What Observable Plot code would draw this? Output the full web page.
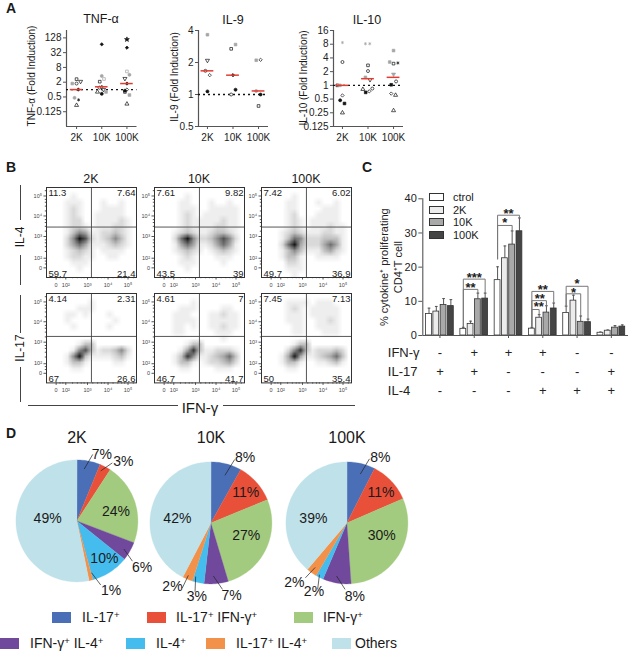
<!DOCTYPE html>
<html><head><meta charset="utf-8">
<script src="https://cdn.jsdelivr.net/npm/d3@7"></script>
<script src="https://cdn.jsdelivr.net/npm/@observablehq/plot@0.6"></script>
<style>
html,body{margin:0;padding:0;background:#fff}
#page{position:relative;width:628px;height:653px;overflow:hidden;font-family:"Liberation Sans",Arial,sans-serif;color:#1a1a1a}
#page svg{position:absolute;overflow:visible;background:transparent}
.lab{position:absolute;white-space:nowrap;line-height:1}
.lab sup{font-size:.68em;line-height:0;vertical-align:.42em}
.box{position:absolute}
</style></head><body><div id="page"></div>
<script>
const FONT = '"Liberation Sans",Arial,sans-serif';
const doseLabels = ["2K","10K","100K"];

// ---- Panel A: fold induction (x = dose index + small horizontal spread as drawn)
const tnfX   = [0,-.17,0,.16,.07,-.08,.08,0, 1,1,1.09,.92,1,.91,.83,1.17,1.07,1, 2,2,2,2.1,1.92,2,2,1.92,1.92,2.1,2];
const tnfY   = [2.66,1.76,1.76,2.13,1,.46,.38,.23, 70,3.6,2.7,2.1,1.3,1.2,.8,.8,1,.67, 111,51,5.5,4,2.8,1.76,1,.9,.8,.6,.26];
const tnfKey = ["sq","gs","ci","it","fd","gc","as","tr", "fd","gc","gos","sq","di","ci","tr","gs","it","fc", "st","fd","gos","gc","it","fd","di","fc","sq","gs","tr"];
const tnfMean = [1,1.3,1.76];

const il9X   = [0,0,-.08,.09,0, .93,1.1,1,1.1,.93, 1.91,2.08,1.91,2.08,2];
const il9Y   = [3.65,2.09,1.67,1.52,1.07, 2.69,2.95,1.52,1.11,1, 2.1,2.12,1.08,1,.78];
const il9Key = ["gs","it","ci","di","fc", "sq","gs","fd","fc","ci", "gs","di","gc","fc","sq"];
const il9Mean = [1.67,1.52,1.08];

const il10X   = [0,0,-.2,-.1,0,-.09,.08,0, .9,1.07,1,1,.9,1.08,.8,.91,1.05,1.17, 2,1.85,2,2.17,2,2.1,1.91,1.91,2.08,2];
const il10Y   = [8.7,3.25,1,1,.6,.47,.4,.25, 8.2,8.2,2.75,2.06,1.5,1.33,.82,.7,.74,.85, 5.8,3.25,3,3.1,1.75,1.22,1.03,.66,.61,.28];
const il10Key = ["gas","ci","sq","gs","di","fc","fs","tr", "gas","gas","sq","ci","gs","it","tr","fs","di","ci", "gs","gs","sq","as","git","ci","fs","di","tr","tr"];
const il10Mean = [1,1.4,1.5];

// ---- Panel B: quadrant percentages and density (0 empty .. 9 darkest)
const flowTickPos = [0,1,3.25,5.38,7.45];
const flowTickText = ["0","10²","10³","10⁴","10⁵"];
const flowMinorPos = [.4,.7,1.7,2.2,2.6,2.9,3.8,4.3,4.7,5,5.9,6.4,6.8,7.1,8];
const quad_IL4 = [["11.3","7.64","59.7","21.4"],["7.61","9.82","43.5","39"],["7.42","6.02","49.7","36.9"]];
const quad_IL17 = [["4.14","2.31","67","26.6"],["4.61","7","46.7","41.7"],["7.45","7.13","50","35.4"]];
const split_IL4 = 4.23, split_IL17 = 3.85, split_IFN = 3.66;
const dens_IL4_2K = ["000000000000000","000010000000000","000111000100100","000121000111100","000121001111100","000122001111210","000122101112210","000135411223210","000259721235310","000246411123210","000123210111100","000122110011000","000011100000000","000001000000000","000000000000000"];
const dens_IL4_10K = ["000000000000000","000001000000000","000011000100100","000011100111110","000012101111110","000012111112110","000012111122110","000123211233210","000269522357520","000146411246410","000123210123210","000012100011100","000011100001000","000001000000000","000000000000000"];
const dens_IL4_100K = ["000000000000000","000001000000000","000011000100100","000011000011100","000012000111100","000012101111100","000012101112110","000123211122110","000136522233310","000269422246410","000135311134210","000133100111100","000022100000000","000011100000000","000001000000000"];
const dens_IL17_2K = ["000000000000000","000000010000000","000001110000000","000110100010000","000100000001000","000010000010000","000000000000000","000000000000000","000001330000000","000015731223520","000159311112310","000133100001100","000011000000000","000000000000000","000000000000000"];
const dens_IL17_10K = ["000000000000000","000000100000000","000011100001100","000111000112110","000111100111110","000110100112110","000110000011100","000000000001000","000001330000000","000014831122210","000138511234630","000133101223420","000011000011100","000000000000000","000000000000000"];
const dens_IL17_100K = ["000000000000000","000011110111000","000012101111100","000011101111100","000011100112100","000001100111100","000001100011100","000000000000000","000001330000000","000025831222320","000149411234630","000133100112310","000011000000000","000000000000000","000000000000000"];

// ---- Panel C: bars, error tops, significance brackets, +/- table
const cSeries = ["ctrol","2K","10K","100K"];
const cFill = ["#ffffff","#ececec","#a9a9a9","#454545"];
const cCtrol = [6.3,1.95,16.2,2,6.6,.8];
const c2K    = [7,3.4,22.6,5.2,10.2,1.4];
const c10K   = [8.9,10.6,26.6,6.7,4,2.3];
const c100K  = [8.6,10.8,30.5,7.9,3.9,2.6];
const eCtrol = [8,2.4,20.1,2.4,8.6,1];
const e2K    = [8.5,4.2,26.2,6.1,11.8,1.6];
const e10K   = [10.8,12.4,30.6,8.7,5.7,2.9];
const e100K  = [10.5,12.4,34.4,9.5,4.8,3.1];
const bracketGroup = [1,1,2,2,3,3,3,4,4];
const bracketTo    = [3,2,3,2,3,2,1,3,2];
const bracketTop   = [16.5,13.5,35.2,32.2,12.9,10.2,7.6,14.4,12.2];
const bracketFrom  = [2.6,2.6,22.4,22.4,2.7,2.7,2.7,8.8,8.8];
const bracketEnd   = [12.4,12.4,34.4,30.6,9.7,8.7,6.3,4.9,5.8];
const bracketStars = ["***","**","**","*","**","**","**","*","*"];
const bracketStarY = [17.8,14.9,36.6,33.9,14.3,11.6,9.2,16.1,13.4];
const bracketStarAt= [1.5,1,1.5,1,1.5,1.1,.95,1.5,1];
const tableRows = ["IFN-γ","IL-17","IL-4"];
const tableIFN  = ["-","+","+","+","-","-"];
const tableIL17 = ["+","+","-","-","-","+"];
const tableIL4  = ["-","-","-","+","+","+"];

// ---- Panel D: slices as drawn, printed labels
const pieNames  = ["IL-17+","IL-17+ IFN-γ+","IFN-γ+","IFN-γ+ IL-4+","IL-4+","IL-17+ IL-4+","Others"];
const pieColors = ["#4a6fb6","#e8503a","#a3cb7f","#71499c","#45bcee","#f2924a","#bfe1e9"];
const share2K   = [6.2,3,21.6,5,10,1,53.2];
const share10K  = [8.1,10.7,26.6,6.4,3.1,2.7,42.4];
const share100K = [7.5,11,30.4,7.5,2,2.8,38.8];
const text2K   = ["7%","3%","24%","6%","10%","1%","49%"];
const text10K  = ["8%","11%","27%","7%","3%","2%","42%"];
const text100K = ["8%","11%","30%","8%","2%","2%","39%"];
// label anchor and leader line, in pie radii
const place2K = [[.41,1.09,.12,.85,.26,1.09],[.76,.97,.39,.82,.58,.95],[.64,.16],[1.07,-.77,.77,-.46,.91,-.66],[.45,-.62],[.56,-1.14,.24,-.85,.39,-1.05],[-.48,.04]];
const place10K = [[.56,1.08,.23,.78,.39,1.04],[.57,.49],[.58,-.21],[.34,-1.19,.04,-.87,.19,-1.09],[-.23,-1.2,-.25,-.88,-.26,-1.13],[-.63,-1.05,-.37,-.86,-.47,-1.07],[-.55,.07]];
const place100K = [[.55,1.08,.22,.8,.37,1.05],[.56,.49],[.57,-.21],[.13,-1.2,-.17,-.87,-.03,-1.09],[-.54,-1.13,-.45,-.85,-.48,-1.09],[-.86,-.97,-.52,-.73,-.68,-.9],[-.55,.07]];

// ---------------- layout helpers
const page = document.getElementById("page");
function put(svg,left,top){svg.style.left=left+"px";svg.style.top=top+"px";page.appendChild(svg);}
function lab(html,x,y,o={}){
  const d=document.createElement("div");d.className="lab";d.innerHTML=html;
  d.style.left=x+"px";d.style.top=y+"px";d.style.fontSize=(o.size||12)+"px";
  if(o.weight)d.style.fontWeight=o.weight;
  const tx=o.anchor==="start"?"0":"-50%";
  d.style.transform=`translate(${tx},-50%)`+(o.rot?` rotate(${o.rot}deg)`:"");
  page.appendChild(d);
}
function box(x,y,w,h,bg,border){
  const d=document.createElement("div");d.className="box";
  Object.assign(d.style,{left:x+"px",top:y+"px",width:w+"px",height:h+"px",background:bg,boxSizing:"border-box"});
  if(border)d.style.border=border;page.appendChild(d);
}
const blank=()=>"";

// ---------------- A
const black="#111",gray="#a5a5a5";
const markers={
  sq:{symbol:"square",fill:"#fff",stroke:black}, ci:{symbol:"circle",fill:"#fff",stroke:black},
  tr:{symbol:"triangle",fill:"#fff",stroke:black}, di:{symbol:"diamond2",fill:"#fff",stroke:black},
  it:{symbol:"triangle",fill:"#fff",stroke:black,rotate:180},
  gs:{symbol:"square",fill:gray,stroke:gray}, gc:{symbol:"circle",fill:gray,stroke:gray},
  gos:{symbol:"square",fill:"#fff",stroke:gray}, gas:{symbol:"asterisk",fill:"none",stroke:gray},
  git:{symbol:"triangle",fill:gray,stroke:gray,rotate:180},
  as:{symbol:"asterisk",fill:"none",stroke:black}, st:{symbol:"star",fill:black,stroke:black},
  fc:{symbol:"circle",fill:black,stroke:black}, fs:{symbol:"square",fill:black,stroke:black},
  fd:{symbol:"diamond2",fill:black,stroke:black}
};
const axisGray="#555";
function panelA({xs,ys,keys,means,left,width,marginLeft,marginRight,xDomain,yDomain,yTicks}){
  const rows=xs.map((x,i)=>({x,y:ys[i],k:keys[i]}));
  const dots=Object.entries(markers).map(([k,m])=>Plot.dot(rows.filter(d=>d.k===k),{x:"x",y:"y",r:1.5,strokeWidth:.7,...m}));
  return put(Plot.plot({
    width,height:150,marginLeft,marginRight,marginTop:30,marginBottom:24,
    style:{fontFamily:FONT,fontSize:"10px",color:"#222",background:"transparent"},
    x:{domain:xDomain},
    y:{type:"log",base:2,domain:yDomain},
    marks:[
      Plot.ruleX([xDomain[0]],{stroke:axisGray,strokeWidth:1.2}),
      Plot.ruleY([yDomain[0]],{stroke:axisGray,strokeWidth:1.2}),
      Plot.axisX({ticks:[0,1,2],tickFormat:i=>doseLabels[i],label:null,tickSize:3,stroke:axisGray,tickPadding:4}),
      Plot.axisY({ticks:yTicks,tickFormat:d=>String(d),label:null,tickSize:3,stroke:axisGray,tickPadding:2}),
      Plot.ruleY([1],{stroke:black,strokeWidth:1.3,strokeDasharray:"2,3"}),
      ...dots,
      Plot.ruleY(means,{x1:(d,i)=>i-.25,x2:(d,i)=>i+.25,y:d=>d,stroke:"#e23b30",strokeWidth:1.5})
    ]
  }),left,0);
}
panelA({xs:tnfX,ys:tnfY,keys:tnfKey,means:tnfMean,left:0,width:150,marginLeft:66,marginRight:13.5,xDomain:[-.4,2.4],yDomain:[1/32,256],yTicks:[128,32,8,2,.5,.125]});
panelA({xs:il9X,ys:il9Y,keys:il9Key,means:il9Mean,left:150,width:130,marginLeft:48,marginRight:12,xDomain:[-.35,2.39],yDomain:[.5,4],yTicks:[4,2,1,.5]});
panelA({xs:il10X,ys:il10Y,keys:il10Key,means:il10Mean,left:280,width:135,marginLeft:53,marginRight:12,xDomain:[-.35,2.39],yDomain:[.125,16],yTicks:[16,8,4,2,1,.5,.25,.125]});
lab("A",11,8,{size:14,weight:"bold"});
lab("TNF-α",101,19,{size:12.5});lab("IL-9",233,20,{size:12.5});lab("IL-10",367,20,{size:12.5});
lab("TNF-α (Fold Induction)",32,75.5,{size:10,rot:-90});
lab("IL-9 (Fold Induction)",175,77,{size:10,rot:-90});
lab("IL-10 (Fold Induction)",304,78,{size:10,rot:-90});

// ---------------- B
function flow({dens,quad,split,left,top,width,height}){
  const F=[-1,8.33];
  const values=dens.join("").split("").map(Number);
  const axStyle={stroke:"#555",fill:"#444"};
  return put(Plot.plot({
    width:width+18,height:height+16,marginLeft:16,marginRight:2,marginTop:3,marginBottom:13,
    style:{fontFamily:FONT,fontSize:"5.5px",background:"transparent"},
    x:{domain:F},y:{domain:F},
    color:{type:"pow",exponent:1.2,domain:[0,9],range:["#ffffff","#161616"]},
    marks:[
      Plot.raster(values,{width:15,height:15,x1:F[0],x2:F[1],y1:F[1],y2:F[0],fill:d=>d}),
      Plot.axisX({ticks:flowMinorPos,tickFormat:blank,tickSize:1.2,label:null,...axStyle}),
      Plot.axisY({ticks:flowMinorPos,tickFormat:blank,tickSize:1.2,label:null,...axStyle}),
      Plot.axisX({ticks:flowTickPos,tickFormat:(d,i)=>flowTickText[i],tickSize:2.5,tickPadding:3,label:null,...axStyle}),
      Plot.axisY({ticks:flowTickPos,tickFormat:(d,i)=>flowTickText[i],tickSize:2.5,tickPadding:2,label:null,...axStyle}),
      Plot.ruleX([split_IFN],{stroke:"#444",strokeWidth:.9}),
      Plot.ruleY([split],{stroke:"#444",strokeWidth:.9}),
      Plot.frame({stroke:"#333",strokeWidth:1}),
      Plot.text([quad[0]],{frameAnchor:"top-left",dx:2,dy:2,fontSize:9.5,fill:"#222"}),
      Plot.text([quad[1]],{frameAnchor:"top-right",dx:-1,dy:2,fontSize:9.5,fill:"#222"}),
      Plot.text([quad[2]],{frameAnchor:"bottom-left",dx:2,dy:-1,fontSize:9.5,fill:"#222"}),
      Plot.text([quad[3]],{frameAnchor:"bottom-right",dx:-1,dy:-1,fontSize:9.5,fill:"#222"})
    ]
  }),left-16,top-3);
}
const flowLeft=[45.7,154,261.3];
const densTop=[dens_IL4_2K,dens_IL4_10K,dens_IL4_100K], densBot=[dens_IL17_2K,dens_IL17_10K,dens_IL17_100K];
flowLeft.forEach((l,i)=>{
  flow({dens:densTop[i],quad:quad_IL4[i],split:split_IL4,left:l,top:187.3,width:90,height:90});
  flow({dens:densBot[i],quad:quad_IL17[i],split:split_IL17,left:l,top:293.3,width:90,height:89.4});
});
lab("B",11,167,{size:14,weight:"bold"});
lab("2K",91,179,{size:12.5});lab("10K",199,179,{size:12.5});lab("100K",306,179,{size:12.5});
lab("IL-4",20,237,{size:12,rot:-90});lab("IL-17",20,348,{size:12,rot:-90});
lab("IFN-γ",200,407,{size:15});
box(20,185,1,35,"#444");box(20,255,1,30,"#444");box(20,295,1,38,"#444");box(20,367,1,35,"#444");
box(28,405,150,1,"#444");box(223,405,132,1,"#444");

// ---------------- C
const cValues=[cCtrol,c2K,c10K,c100K], cErrors=[eCtrol,e2K,e10K,e100K];
const step=.2125, half=.085;
const bars=[];
cValues.forEach((vals,s)=>vals.forEach((v,g)=>bars.push({g,s,v,e:cErrors[s][g],cx:g+(s-1.5)*step})));
const bracketPts=[], stars=[];
bracketGroup.forEach((g,i)=>{
  const xa=g-1.5*step,xb=g+(bracketTo[i]-1.5)*step;
  [[xa,bracketFrom[i]],[xa,bracketTop[i]],[xb,bracketTop[i]],[xb,bracketEnd[i]]].forEach(([x,y])=>bracketPts.push({i,x,y}));
  stars.push({x:g+(bracketStarAt[i]-1.5)*step,y:bracketStarY[i],t:bracketStars[i]});
});
const cX=[-.5,5.5];
put(Plot.plot({
  width:268,height:151,marginLeft:62.3,marginRight:0,marginTop:8.3,marginBottom:6,
  style:{fontFamily:FONT,fontSize:"11px",color:"#222",background:"transparent"},
  x:{domain:cX},y:{domain:[0,40]},
  marks:[
    Plot.ruleX([-.5],{stroke:axisGray,strokeWidth:1.1}),
    Plot.axisX({ticks:[0,1,2,3,4,5],tickFormat:blank,tickSize:3,label:null,stroke:axisGray}),
    Plot.axisY({ticks:[0,10,20,30,40],tickSize:4,tickPadding:2,label:null,stroke:axisGray}),
    Plot.ruleX(bars,{x:"cx",y1:"v",y2:"e",stroke:"#555",strokeWidth:1}),
    Plot.link(bars,{x1:d=>d.cx-.04,x2:d=>d.cx+.04,y1:"e",y2:"e",stroke:"#555",strokeWidth:1}),
    Plot.rectY(bars,{x1:d=>d.cx-half,x2:d=>d.cx+half,y1:0,y2:"v",fill:d=>cFill[d.s],stroke:"#333",strokeWidth:.8}),
    Plot.ruleY([0],{stroke:axisGray,strokeWidth:1.1}),
    Plot.line(bracketPts,{x:"x",y:"y",z:"i",stroke:"#777",strokeWidth:1}),
    Plot.text(stars,{x:"x",y:"y",text:"t",fontSize:13,fontWeight:"bold",dy:3,fill:"#222"}),
    Plot.text(["% cytokine⁺ proliferating\nCD4⁺T cell"],{x:-.5,y:20,dx:-32,rotate:-90,fontSize:11,fill:"#222",lineHeight:1.25})
  ]
}),360,190);
const tableColumns=[tableIFN,tableIL17,tableIL4];
const tableCells=tableRows.flatMap((r,ri)=>tableColumns[ri].map((t,g)=>({r,g,t})));
put(Plot.plot({
  width:268,height:55,marginLeft:62.3,marginRight:0,marginTop:0,marginBottom:0,
  style:{fontFamily:FONT,fontSize:"13px",color:"#222",background:"transparent"},
  x:{domain:cX,axis:null},y:{type:"point",domain:tableRows,range:[6.7,45],padding:0,axis:null},
  marks:[
    Plot.text(tableCells,{x:"g",y:"r",text:"t",fontSize:13,fill:"#222"}),
    Plot.text(tableRows,{x:-.5,y:d=>d,text:d=>d,dx:-35,textAnchor:"start",fontSize:13,fill:"#222"})
  ]
}),360,345);
lab("C",367,167,{size:14,weight:"bold"});
const legY=[193,206,218,231];
cSeries.forEach((s,i)=>{
  box(429.3,legY[i],15,8,cFill[i],"1px solid #333");
  lab(s,453,legY[i]+4,{size:11,anchor:"start"});
});

// ---------------- D
function pie(shares,texts,places,cx,cy){
  const r=61,D=[-1.4,1.4],size=2.8*r;
  let acc=0;const pts=[];
  shares.forEach((s,i)=>{
    const a0=acc/100*2*Math.PI;acc+=s;const a1=acc/100*2*Math.PI;
    pts.push({i,c:pieNames[i],x:0,y:0});
    const n=Math.max(2,Math.ceil(s*2));
    for(let k=0;k<=n;k++){const a=a0+(a1-a0)*k/n;pts.push({i,c:pieNames[i],x:Math.sin(a),y:Math.cos(a)});}
  });
  const labels=places.map((p,i)=>({x:p[0],y:p[1],t:texts[i]}));
  const leaders=places.filter(p=>p.length>2).map(p=>({x1:p[2],y1:p[3],x2:p[4],y2:p[5]}));
  put(Plot.plot({
    width:size,height:size,margin:0,
    style:{fontFamily:FONT,fontSize:"14px",background:"transparent"},
    x:{domain:D,axis:null},y:{domain:D,axis:null},
    color:{domain:pieNames,range:pieColors},
    marks:[
      Plot.line(pts,{x:"x",y:"y",z:"i",fill:"c",stroke:"c",strokeWidth:.3,curve:"linear-closed"}),
      Plot.link(leaders,{x1:"x1",y1:"y1",x2:"x2",y2:"y2",stroke:"#222",strokeWidth:.7}),
      Plot.text(labels,{x:"x",y:"y",text:"t",fontSize:14,fill:"#1a1a1a"})
    ]
  }),cx-size/2,cy-size/2);
}
pie(share2K,text2K,place2K,76,520);
pie(share10K,text10K,place10K,210.5,522);
pie(share100K,text100K,place100K,346.7,522);
lab("D",11,433,{size:14,weight:"bold"});
lab("2K",77,438,{size:16});lab("10K",211,438,{size:16});lab("100K",347,438,{size:16});
const legend=[[52,82,617],[147,176,617],[294,323,617],[0,30,643],[126,156,643],[206,236,643],[332,355,643]];
const legendText=["IL-17<sup>+</sup>","IL-17<sup>+</sup> IFN-γ<sup>+</sup>","IFN-γ<sup>+</sup>","IFN-γ<sup>+</sup> IL-4<sup>+</sup>","IL-4<sup>+</sup>","IL-17<sup>+</sup> IL-4<sup>+</sup>","Others"];
legend.forEach(([sx,tx,y],i)=>{
  box(sx,y-5.5,19,11,pieColors[i]);
  lab(legendText[i],tx,y,{size:14,anchor:"start"});
});
</script></body></html>
